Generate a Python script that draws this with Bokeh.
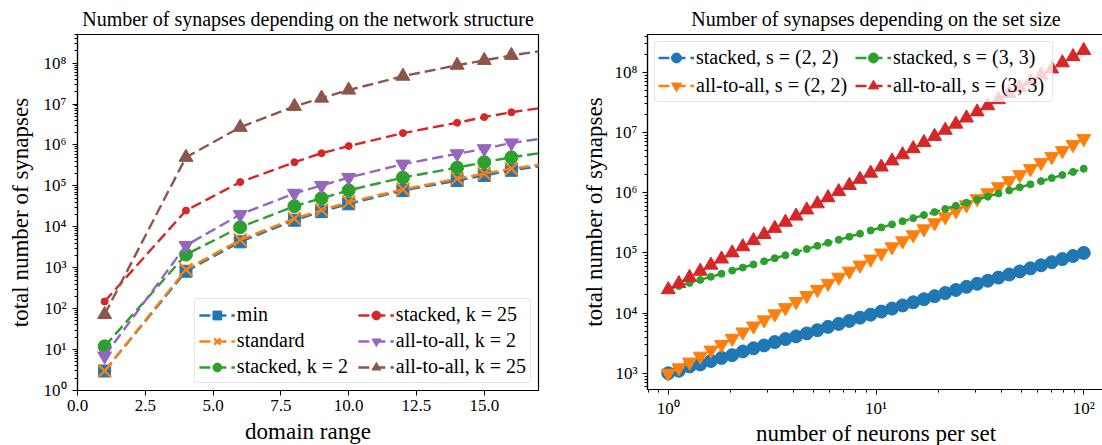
import numpy as np
from bokeh.plotting import figure
from bokeh.layouts import row
from bokeh.models import (Range1d, Legend, LegendItem, FixedTicker,
                          CustomJSTickFormatter, NumeralTickFormatter)
from bokeh.embed import file_html
from bokeh.resources import INLINE

# ---------------- data: left chart ----------------
domain_range = [1, 4, 6, 8, 9, 10, 12, 14, 15, 16, 20]
syn_min = [3, 820, 4300, 14500, 23500, 36500, 77000, 135000, 180000, 240000, 590000]
syn_standard = [3, 900, 4800, 15800, 25500, 40000, 82000, 150000, 200000, 262000, 640000]
syn_stacked_k2 = [12, 2100, 9800, 32000, 50000, 78000, 160000, 280000, 380000, 500000, 1220000]
syn_stacked_k25 = [150, 25000, 124000, 380000, 630000, 940000, 1950000, 3500000, 4800000, 6300000, 15400000]
syn_a2a_k2 = [7, 3500, 20000, 66000, 102000, 160000, 340000, 610000, 810000, 1120000, 2700000]
syn_a2a_k25 = [72, 500000, 2700000, 8800000, 14000000, 22000000, 48000000, 89000000, 117000000, 155000000, 380000000]

# ---------------- data: right chart ----------------
neurons_per_set = [1.000, 1.125, 1.266, 1.425, 1.604, 1.805, 2.031, 2.285, 2.572, 2.894,
                   3.257, 3.665, 4.124, 4.641, 5.223, 5.877, 6.614, 7.442, 8.375, 9.425,
                   10.61, 11.94, 13.43, 15.11, 17.01, 19.14, 21.54, 24.24, 27.27, 30.69,
                   34.54, 38.87, 43.74, 49.22, 55.38, 62.33, 70.14, 78.92, 88.82, 100.0]
stacked_s22 = [1000, 1100, 1300, 1400, 1600, 1800, 2000, 2300, 2600, 2900,
               3300, 3700, 4100, 4600, 5200, 5900, 6600, 7400, 8400, 9400,
               10600, 11900, 13400, 15100, 17000, 19100, 21500, 24200, 27300, 30700,
               34500, 38900, 43700, 49200, 55400, 62300, 70100, 78900, 88800, 100000]
a2a_s22 = [1000, 1230, 1530, 1920, 2420, 3000, 3800, 4850, 6100, 7700,
           9700, 12300, 15500, 19600, 24700, 31200, 39400, 49700, 62700, 79000,
           99500, 125900, 158500, 199500, 251200, 316200, 398100, 501200, 631000, 794300,
           1000000, 1259000, 1585000, 1995000, 2512000, 3162000, 3981000, 5012000, 6310000, 7943000]
stacked_s33 = [25000, 28100, 31700, 35600, 40100, 45100, 50800, 57100, 64300, 72400,
               81400, 91600, 103000, 116000, 131000, 147000, 165000, 186000, 209000, 236000,
               265000, 298000, 336000, 378000, 425000, 478000, 538000, 606000, 682000, 767000,
               863000, 972000, 1090000, 1230000, 1380000, 1560000, 1750000, 1970000, 2220000, 2500000]
a2a_s33 = [24500, 31000, 39200, 49600, 62700, 79300, 100300, 126800, 160300, 202700,
           256300, 324100, 409800, 518100, 655100, 828300, 1047000, 1324000, 1674000, 2117000,
           2677000, 3385000, 4280000, 5411000, 6842000, 8651000, 10940000, 13830000, 17490000, 22110000,
           27960000, 35350000, 44700000, 56520000, 71460000, 90360000, 114300000, 144500000, 182700000, 231000000]

# ---------------- ticks ----------------
left_x_ticks = [0, 2.5, 5, 7.5, 10, 12.5, 15]
left_y_ticks = [1e0, 1e1, 1e2, 1e3, 1e4, 1e5, 1e6, 1e7, 1e8]
right_x_ticks = [1e0, 1e1, 1e2]
right_y_ticks = [1e3, 1e4, 1e5, 1e6, 1e7, 1e8]


def minors(exp_lo, exp_hi, lo, hi):
    out = []
    for e in range(exp_lo, exp_hi + 1):
        for m in range(2, 10):
            v = m * 10.0 ** e
            if lo <= v <= hi:
                out.append(v)
    return out


FONT = "Liberation Serif"
BLUE, ORANGE, GREEN, RED, PURPLE, BROWN = "#1f77b4", "#ff7f0e", "#2ca02c", "#d62728", "#9467bd", "#8c564b"
DASH = "11 5"
LW = 2.4

sup_js = """
const sup = {"0":"\u2070","1":"\u00b9","2":"\u00b2","3":"\u00b3","4":"\u2074","5":"\u2075","6":"\u2076","7":"\u2077","8":"\u2078","9":"\u2079","-":"\u207b"};
const e = Math.round(Math.log10(tick));
return "10" + String(e).split("").map(c => sup[c]).join("");
"""


def style(p):
    p.toolbar.logo = None
    p.grid.visible = False
    p.outline_line_color = "black"
    p.outline_line_width = 1.2
    p.outline_line_alpha = 1.0
    p.background_fill_color = "white"
    p.border_fill_color = "white"
    p.title.align = "center"
    p.title.text_font = FONT
    p.title.text_font_style = "normal"
    p.title.text_font_size = "20px"
    p.title.text_color = "black"
    p.title.standoff = 10
    for ax in p.axis:
        ax.axis_line_color = "black"
        ax.axis_line_width = 1.2
        ax.major_tick_line_color = "black"
        ax.minor_tick_line_color = "black"
        ax.major_tick_out = 5
        ax.major_tick_in = 0
        ax.minor_tick_out = 3
        ax.minor_tick_in = 0
        ax.major_label_text_font = FONT
        ax.major_label_text_font_size = "17px"
        ax.major_label_text_color = "black"
        ax.axis_label_text_font = FONT
        ax.axis_label_text_font_size = "23px"
        ax.axis_label_text_font_style = "normal"
        ax.axis_label_text_color = "black"
    for ax in p.xaxis:
        ax.major_label_standoff = 4
        ax.axis_label_standoff = 0
    for ax in p.yaxis:
        ax.major_label_standoff = 6
        ax.axis_label_standoff = 8


def style_legend(lg, label_h, pad, label_w):
    lg.label_text_font = FONT
    lg.label_text_font_size = "20px"
    lg.label_text_color = "black"
    lg.background_fill_color = "white"
    lg.background_fill_alpha = 0.8
    lg.border_line_color = "#cccccc"
    lg.border_line_width = 1
    try:
        lg.border_radius = 4
    except Exception:
        pass
    lg.glyph_width = 36
    lg.glyph_height = label_h
    lg.label_height = label_h
    lg.label_width = label_w
    lg.label_standoff = 2
    lg.spacing = 3
    lg.padding = pad
    lg.margin = 7
    lg.ncols = 2


# ---------------- left figure ----------------
p1 = figure(frame_width=461, frame_height=356, x_range=Range1d(0, 17), y_range=Range1d(1, 10 ** 8.7),
            y_axis_type="log", output_backend="svg", toolbar_location=None,
            min_border_left=77, min_border_right=40, min_border_top=34, min_border_bottom=54,
            title="Number of synapses depending on the network structure")
p1.xaxis.ticker = FixedTicker(ticks=left_x_ticks)
p1.xaxis.formatter = NumeralTickFormatter(format="0.0")
p1.yaxis.ticker = FixedTicker(ticks=left_y_ticks, minor_ticks=minors(0, 8, 1, 10 ** 8.7))
p1.yaxis.formatter = CustomJSTickFormatter(code=sup_js)
p1.xaxis.axis_label = "domain range"
p1.yaxis.axis_label = "total number of synapses"
style(p1)
p1.xaxis.minor_tick_line_color = None
p1.xaxis.axis_label_standoff = 5

left_series = [
    ("min", syn_min, BLUE, "square", 12),
    ("standard", syn_standard, ORANGE, "x", 18),
    ("stacked, k = 2", syn_stacked_k2, GREEN, "circle", 13),
    ("stacked, k = 25", syn_stacked_k25, RED, "circle", 7),
    ("all-to-all, k = 2", syn_a2a_k2, PURPLE, "inverted_triangle", 14),
    ("all-to-all, k = 25", syn_a2a_k25, BROWN, "triangle", 14),
]
items1 = []
for label, ys, col, mk, sz in left_series:
    lr = p1.line(domain_range, ys, line_color=col, line_width=LW, line_dash=DASH)
    sr = p1.scatter(domain_range, ys, marker=mk, size=sz, fill_color=col, line_color=col,
                    line_width=2.2 if mk == "x" else 1)
    items1.append(LegendItem(label=label, renderers=[lr, sr]))
lg1 = Legend(items=items1, location="bottom_right")
style_legend(lg1, 22, 4, 118)
p1.add_layout(lg1)

# ---------------- right figure ----------------
p2 = figure(frame_width=457, frame_height=355, x_axis_type="log", y_axis_type="log",
            x_range=Range1d(10 ** -0.1, 10 ** 2.1), y_range=Range1d(10 ** 2.73, 10 ** 8.63),
            output_backend="svg", toolbar_location=None,
            min_border_left=65, min_border_right=1, min_border_top=34, min_border_bottom=55,
            title="Number of synapses depending on the set size")
p2.xaxis.ticker = FixedTicker(ticks=right_x_ticks, minor_ticks=minors(-1, 2, 10 ** -0.1, 10 ** 2.1))
p2.yaxis.ticker = FixedTicker(ticks=right_y_ticks, minor_ticks=minors(2, 8, 10 ** 2.73, 10 ** 8.63))
p2.xaxis.formatter = CustomJSTickFormatter(code=sup_js)
p2.yaxis.formatter = CustomJSTickFormatter(code=sup_js)
p2.xaxis.axis_label = "number of neurons per set"
p2.yaxis.axis_label = "total number of synapses"
style(p2)
p2.yaxis.major_label_standoff = 5
p2.yaxis.axis_label_standoff = 5

right_series = [
    ("stacked, s = (2, 2)", stacked_s22, BLUE, "circle", 13),
    ("all-to-all, s = (2, 2)", a2a_s22, ORANGE, "inverted_triangle", 14),
    ("stacked, s = (3, 3)", stacked_s33, GREEN, "circle", 7),
    ("all-to-all, s = (3, 3)", a2a_s33, RED, "triangle", 14),
]
items2 = []
for label, ys, col, mk, sz in right_series:
    lr = p2.line(neurons_per_set, ys, line_color=col, line_width=LW, line_dash=DASH)
    sr = p2.scatter(neurons_per_set, ys, marker=mk, size=sz, fill_color=col, line_color=col)
    items2.append(LegendItem(label=label, renderers=[lr, sr]))
lg2 = Legend(items=items2, location="top_left")
style_legend(lg2, 25, 3, 156)
p2.add_layout(lg2)

layout = row(p1, p2)
open("out.html", "w").write(file_html(layout, INLINE))
